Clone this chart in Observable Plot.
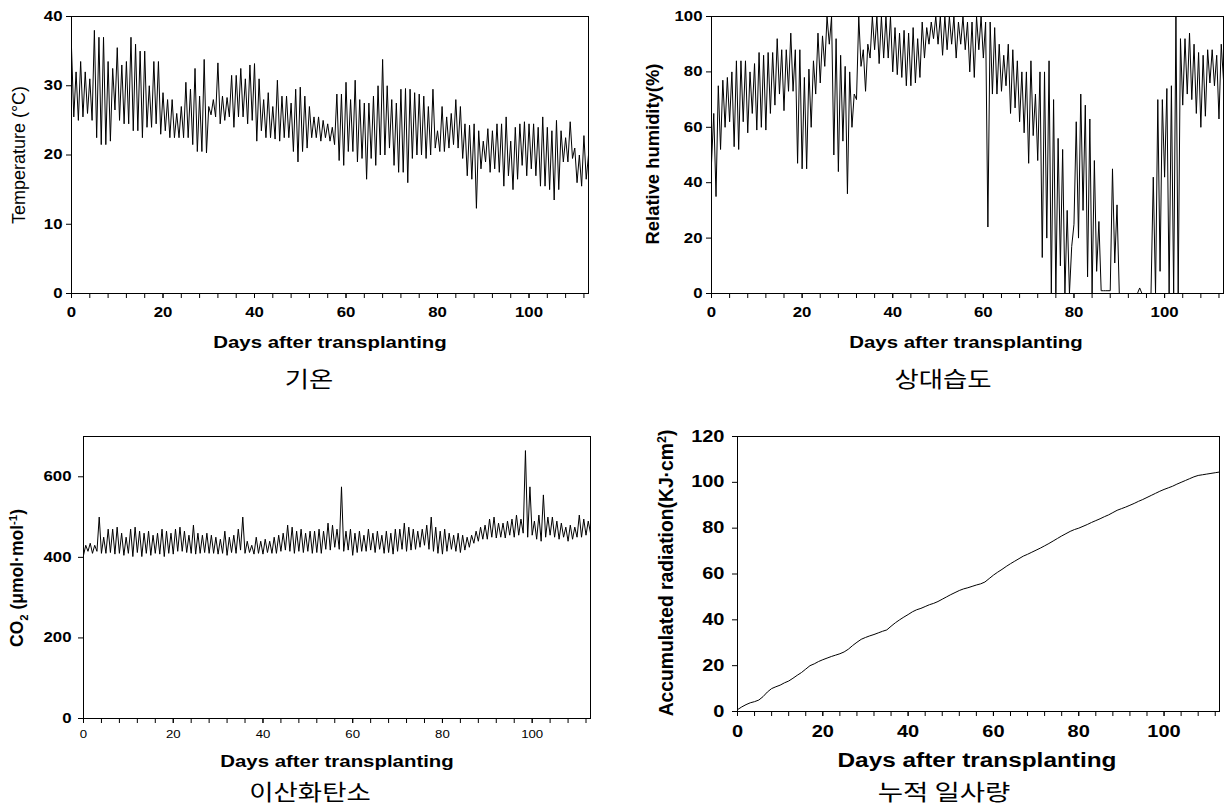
<!DOCTYPE html>
<html><head><meta charset="utf-8">
<script src="https://cdn.jsdelivr.net/npm/d3@7"></script>
<script src="https://cdn.jsdelivr.net/npm/@observablehq/plot@0.6"></script>
<style>
body{margin:0;background:#fff;}
#root{position:relative;width:1226px;height:808px;overflow:hidden;font-family:Arial,"Liberation Sans",sans-serif;}
.panel{position:absolute;}
.lbl{position:absolute;white-space:nowrap;color:#000;line-height:1;}
.cap{font-family:"Noto Sans CJK KR",sans-serif;font-size:22px;}
sub,sup{font-size:0.65em;}
</style></head><body><div id="root"></div>
<script>
// ---------- data ----------
const xMajor = [0, 20, 40, 60, 80, 100];
const xMinor = [0,4,8,12,16,20,24,28,32,36,40,44,48,52,56,60,64,68,72,76,80,84,88,92,96,100,104,108,112];

// Temperature: daily max / min (°C), day 0..112
const tMax = [35.5,32,33.5,32,31,38,37,37,33.5,32.5,35.5,33,33.5,37,36,35,35,30,33.5,33.5,
29,28,28,26,27,30.5,29.5,32.5,28.5,33.8,27,28,33.3,28.5,28.3,31.5,31.5,32.5,31,33,
33.2,31,28,29,27,30.8,28.5,28.5,27.5,29.5,29.8,28.5,27,25.5,25.5,25,24.5,24,28.8,28.8,
30.5,28,30.8,28,27.5,27.5,28.5,30,33.8,30,28,27.5,29.5,29.6,29.5,29,28.8,28.5,27,29.5,
23.5,27,25.5,26,28,27,24.5,24.3,24.5,23.5,22,23.8,23.5,24.5,24.5,25.5,22,24,24.5,24.8,
24.5,24.5,24,25.5,24,23.5,25,23.5,22.5,24.8,21,20,22.8];
const tMin = [25.5,25,25.5,26,25,22.5,21.5,21.5,22,26.5,25,24.5,24.5,23.5,23.5,22.5,24,24,24.5,23,
23.5,22.5,22.5,22.5,22.5,22.5,21.5,20.5,20.5,20.3,25.8,25.5,24.5,25,25.5,24,25.5,25.5,24.5,25,
22,23.5,22.5,22.5,22.3,22,22.5,22.5,20.5,19,20.5,21,22.5,22.5,22,22.5,22,21.5,19.2,18.5,
20.5,20.5,19,19.5,16.5,19.5,18.5,20,20,21,18.5,17.5,17.5,16,19.5,20,20,19.5,20,21,
20.5,20.5,21,21.5,21,19.5,17,16.5,12.3,18,19,17.5,18,17.5,15.5,17,15,16.5,18.5,17,
18,17,15.5,15.5,15,13.5,15,19,19,19.5,16,15.5,16.5];
const tEnd = 20;

// Relative humidity: daily min / max (%), day 0..112
const hMin = [47,35,52,60,62,53,52,62,58,65,59,60,59,65,68,72,66,73,73,47,
45,45,60,72,76,82,90,50,44,55,36,60,70,82,73,85,88,83,85,85,
80,79,78,75,75,76,78,85,90,92,90,86,88,90,85,90,88,80,78,88,
85,24,72,72,73,75,65,67,62,58,47,57,48,13,20,0,0,10,0,0,
25,20,30,6,0,8,1,1,1,11,0,0,0,0,0,0,0,0,0,8,
42,0,0,0,68,72,70,65,60,64,76,75,63];
const hMax = [65,75,77,78,80,84,84,84,80,83,87,86,87,87,92,88,88,94,88,88,
78,81,84,94,93,100,100,92,86,82,80,72,100,88,90,100,100,100,100,100,
96,94,95,94,96,92,98,96,98,100,100,100,100,100,98,100,98,98,100,100,
98,98,96,90,86,90,88,84,80,80,84,72,80,80,84,70,56,52,30,17,
62,72,68,63,48,26,1,1,45,32,0,0,0,0,2,0,0,42,70,70,
74,75,100,92,92,94,90,87,86,88,88,86,90];
const hEnd = 77;

// CO2: daily min / max (µmol·mol-1), day 0..112
const cMin = [405,415,410,415,410,410,412,408,410,405,410,402,412,402,410,405,410,408,402,410,
408,415,415,412,410,408,410,412,410,410,408,410,405,412,410,418,410,412,408,410,
408,412,410,410,415,418,415,410,415,412,415,410,412,410,420,418,425,420,415,418,
405,412,415,415,418,412,420,410,412,408,415,420,415,418,420,425,430,420,415,410,
408,415,420,415,412,418,425,435,440,445,445,450,448,450,448,455,450,455,460,450,
455,445,440,450,455,450,445,450,440,445,450,450,455];
const cMax = [430,435,430,500,450,470,470,475,460,450,470,475,465,460,465,455,460,470,465,460,
470,475,465,455,480,460,455,460,455,450,445,465,450,455,470,500,440,430,450,440,
445,440,450,455,460,480,475,465,470,460,465,465,470,465,485,480,470,575,465,470,
460,465,455,470,460,465,455,465,460,470,470,485,475,470,465,470,480,500,475,465,
470,460,455,460,455,450,455,465,475,480,495,500,485,485,490,495,505,495,665,575,
490,505,555,500,500,490,485,475,480,475,505,495,490];
const cEnd = 460;

// Accumulated radiation (KJ·cm-2), day 0..113
const radAcc = [0.8,2,3,3.8,4.3,5,6.5,8.5,10,10.8,11.5,12.5,13.3,14.5,15.8,17,18.5,20,20.8,21.8,
22.6,23.3,24,24.6,25.2,26,27.2,28.8,30.2,31.5,32.3,33,33.6,34.3,35,35.6,37.2,38.7,40,41.2,
42.3,43.5,44.4,45,45.8,46.6,47.2,48,49,50,51,51.9,52.8,53.5,54,54.6,55.2,55.7,56.5,58,
59.5,60.8,62,63.3,64.5,65.6,66.7,67.8,68.6,69.5,70.4,71.3,72.3,73.3,74.4,75.5,76.6,77.6,78.6,79.4,
80,80.8,81.6,82.5,83.3,84.1,85,85.8,86.8,87.8,88.5,89.2,90,90.8,91.7,92.5,93.4,94.3,95.2,96.1,
96.9,97.6,98.3,99.2,100,100.8,101.6,102.4,103,103.3,103.6,103.9,104.2,104.5];

// ---------- build tables ----------
const tempData = tMax.flatMap((v, i) => [{day: i, v}, {day: i + 0.5, v: tMin[i]}]).concat([{day: 113, v: tEnd}]);
const humData = hMin.flatMap((v, i) => [{day: i, v}, {day: i + 0.5, v: hMax[i]}]).concat([{day: 113, v: hEnd}]);
const co2Data = cMin.flatMap((v, i) => [{day: i, v}, {day: i + 0.5, v: cMax[i]}]).concat([{day: 113, v: cEnd}]);
const radData = radAcc.map((v, i) => ({day: i, v}));

const FONT = 'Arial, "Liberation Sans", sans-serif';
const root = document.getElementById("root");

// widen tick labels horizontally (the reference figure is stretched sideways)
function stretchText(svg, s) {
  svg.querySelectorAll('g[aria-label$="tick label"] text').forEach(t => {
    const tr = t.getAttribute("transform") || "";
    t.setAttribute("transform", `${tr} scale(${s},1)`);
  });
}

function panel(o) {
  const svg = Plot.plot({
    width: o.W, height: o.H,
    marginLeft: o.ml, marginRight: o.mr, marginTop: o.mt, marginBottom: o.mb,
    x: {domain: [0, 113]},
    y: {domain: o.yDomain},
    style: {fontFamily: FONT, fontSize: o.yFont + "px", fontWeight: "bold", background: "transparent", color: "#000", overflow: "visible"},
    marks: [
      Plot.line(o.data, {x: "day", y: "v", stroke: "#000", strokeWidth: 1, clip: true}),
      Plot.frame({stroke: "#000", strokeWidth: 1}),
      Plot.axisX({ticks: xMinor, tickSize: 5, tickFormat: () => "", label: null}),
      Plot.axisX({ticks: xMajor, tickSize: 5, tickPadding: o.xPad, label: null, fontSize: o.xFont, fontWeight: o.xWeight, fill: "#000"}),
      Plot.axisY({ticks: o.yTicks, tickSize: 5, tickPadding: o.yPad, label: null, fill: "#000"})
    ]
  });
  stretchText(svg, o.sx);
  svg.classList.add("panel");
  svg.style.left = o.left + "px";
  svg.style.top = o.top + "px";
  root.appendChild(svg);
}

function label(html, x, y, css, rot, sx) {
  const d = document.createElement("div");
  d.className = "lbl" + (/[가-힣]/.test(html) ? " cap" : "");
  d.style.left = x + "px";
  d.style.top = y + "px";
  d.style.cssText += css;
  d.style.transform = rot ? "translate(-50%,-50%) rotate(-90deg)" : `translate(-50%,-50%) scaleX(${sx || 1})`;
  d.innerHTML = html;
  root.appendChild(d);
}

// Panel 1: temperature
panel({left: 0, top: 0, W: 600, H: 330, ml: 71, mr: 12, mt: 16, mb: 37,
  yDomain: [0, 40], yTicks: [0, 10, 20, 30, 40], data: tempData,
  yFont: 14, yPad: 4, xFont: 14, xWeight: "bold", xPad: 9, sx: 1.2});
// Panel 2: humidity
panel({left: 620, top: 0, W: 606, H: 330, ml: 91, mr: 3, mt: 16, mb: 37,
  yDomain: [0, 100], yTicks: [0, 20, 40, 60, 80, 100], data: humData,
  yFont: 14, yPad: 4, xFont: 14, xWeight: "bold", xPad: 9, sx: 1.2});
// Panel 3: CO2
panel({left: 0, top: 420, W: 600, H: 330, ml: 83, mr: 10, mt: 16, mb: 32,
  yDomain: [0, 700], yTicks: [0, 200, 400, 600], data: co2Data,
  yFont: 14, yPad: 7, xFont: 11, xWeight: "normal", xPad: 7, sx: 1.2});
// Panel 4: accumulated radiation
panel({left: 620, top: 420, W: 606, H: 330, ml: 117, mr: 7, mt: 16, mb: 39,
  yDomain: [0, 120], yTicks: [0, 20, 40, 60, 80, 100, 120], data: radData,
  yFont: 16, yPad: 8, xFont: 16, xWeight: "bold", xPad: 9, sx: 1.25});

// axis titles and captions
const bold = "font-weight:bold;";
label("Temperature (°C)", 19, 155, "font-size:18px;", true);
label("Days after transplanting", 330, 342, bold + "font-size:17px;", false, 1.2);
label("기온", 309, 377, "", false, 1.2);
label("Relative humidity(%)", 653, 154, bold + "font-size:18.4px;", true);
label("Days after transplanting", 966, 342, bold + "font-size:17px;", false, 1.2);
label("상대습도", 943, 377, "", false, 1.2);
label("CO<sub>2</sub> (μmol·mol<sup>-1</sup>)", 19, 578, bold + "font-size:17.5px;", true);
label("Days after transplanting", 337, 761, bold + "font-size:17px;", false, 1.2);
label("이산화탄소", 310, 790, "", false, 1.2);
label("Accumulated radiation(KJ·cm<sup>2</sup>)", 666, 573, bold + "font-size:19.3px;", true);
label("Days after transplanting", 977, 761, bold + "font-size:19.5px;", false, 1.25);
label("누적 일사량", 944, 790, "", false, 1.25);
</script>
</body></html>
